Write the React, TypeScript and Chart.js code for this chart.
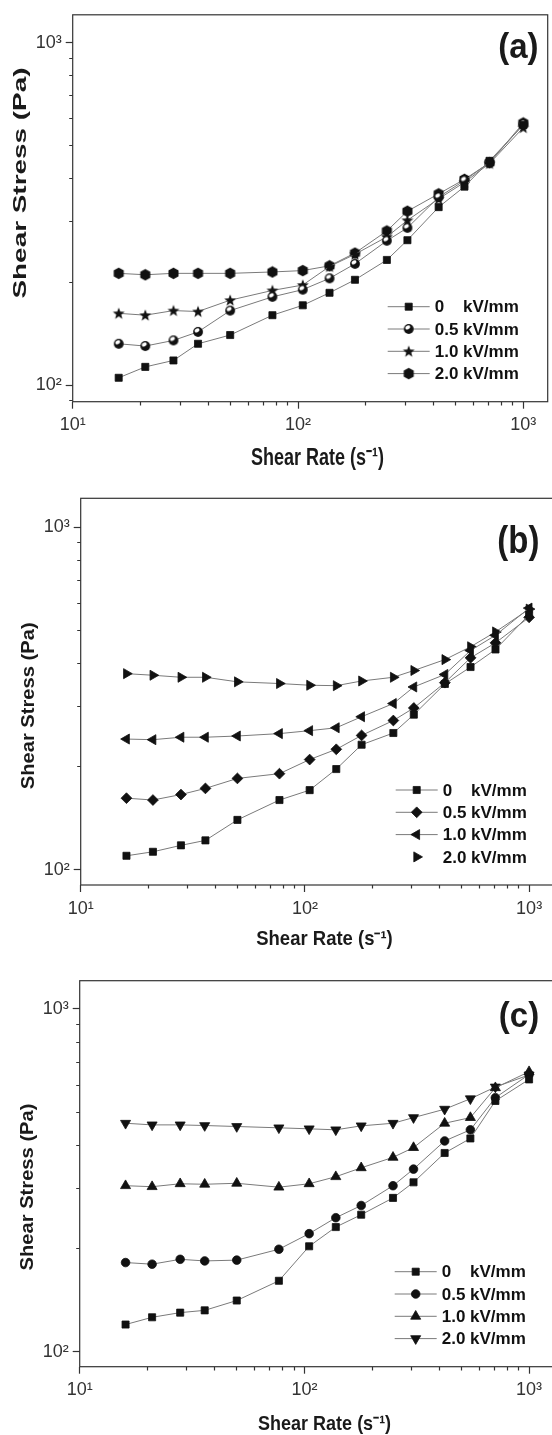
import React, { useEffect, useRef } from 'react';
import { Chart, registerables } from 'chart.js';
import { drawPoint } from 'chart.js/helpers';

Chart.register(...registerables);

// ---------- data ----------
const shearRate = [16, 21, 28, 36, 50, 77, 105, 138, 179, 248, 306, 421, 548, 708, 1000];
const fieldLabels = ['0    kV/mm', '0.5 kV/mm', '1.0 kV/mm', '2.0 kV/mm'];
const decadeValues = [10, 100, 1000];
const decadeLabels = ['10¹', '10²', '10³'];
const panelLetters = ['(a)', '(b)', '(c)'];
const xAxisTitle = 'Shear Rate (s⁻¹)';
const yAxisTitle = 'Shear Stress (Pa)';

// panel (a)
const stressA0 = [105, 113, 118, 132, 140, 160, 171, 186, 203, 232, 265, 331, 380, 452, 575];
const stressA05 = [132, 130, 135, 143, 165, 181, 190, 205, 226, 264, 288, 354, 396, 447, 578];
const stressA10 = [162, 160, 165, 164, 177, 189, 196, 222, 241, 271, 303, 350, 391, 444, 565];
const stressA20 = [212, 210, 212, 212, 212, 214, 216, 223, 243, 282, 322, 362, 399, 446, 583];
// panel (b)
const stressB0 = [110, 113, 118, 122, 140, 160, 171, 197, 232, 251, 284, 349, 391, 440, 556];
const stressB05 = [162, 160, 166, 173, 185, 191, 210, 225, 247, 273, 297, 352, 416, 460, 546];
const stressB10 = [241, 240, 244, 244, 246, 250, 255, 260, 280, 306, 342, 372, 437, 484, 581];
const stressB20 = [374, 370, 365, 365, 354, 350, 346, 345, 356, 365, 382, 411, 448, 495, 577];
// panel (c)
const stressC0 = [120, 126, 130, 132, 141, 161, 203, 231, 251, 281, 312, 380, 419, 539, 623];
const stressC05 = [182, 180, 186, 184, 185, 199, 221, 246, 267, 305, 341, 412, 444, 551, 644];
const stressC10 = [305, 303, 309, 308, 310, 302, 309, 324, 344, 369, 394, 464, 482, 589, 656];
const stressC20 = [464, 459, 459, 457, 454, 450, 447, 444, 456, 464, 482, 510, 547, 592, 642];

// ---------- styling ----------
const FONT = "'Liberation Sans', Arial, Helvetica, sans-serif";
const CW = 560;
const INK = '#111';
const LINE = '#7a7a7a';
const X_DECADE = 225.3;
const Y_DECADE = 342.7;

function makeStar(): HTMLCanvasElement {
  const c = document.createElement('canvas');
  c.width = 14; c.height = 14;
  const g = c.getContext('2d')!;
  g.fillStyle = INK;
  g.beginPath();
  const cx = 7, cy = 7.4, R = 6.2, r = 2.6;
  for (let i = 0; i < 10; i++) {
    const a = -Math.PI / 2 + (i * Math.PI) / 5;
    const rr = i % 2 === 0 ? R : r;
    const px = cx + rr * Math.cos(a), py = cy + rr * Math.sin(a);
    if (i === 0) g.moveTo(px, py); else g.lineTo(px, py);
  }
  g.closePath();
  g.fill();
  return c;
}

function makeHalfCircle(): HTMLCanvasElement {
  const c = document.createElement('canvas');
  c.width = 12; c.height = 12;
  const g = c.getContext('2d')!;
  g.fillStyle = INK;
  g.beginPath(); g.arc(6, 6, 4.9, 0, Math.PI * 2); g.fill();
  g.fillStyle = '#fff';
  g.beginPath(); g.ellipse(5.0, 4.4, 2.6, 1.8, -0.5, 0, Math.PI * 2); g.fill();
  return c;
}

function makeHexagon(): HTMLCanvasElement {
  const c = document.createElement('canvas');
  c.width = 13; c.height = 13;
  const g = c.getContext('2d')!;
  g.fillStyle = INK;
  g.beginPath();
  for (let i = 0; i < 6; i++) {
    const a = -Math.PI / 2 + (i * Math.PI) / 3;
    const px = 6.5 + 5.8 * Math.cos(a), py = 6.5 + 5.8 * Math.sin(a);
    if (i === 0) g.moveTo(px, py); else g.lineTo(px, py);
  }
  g.closePath();
  g.fill();
  return c;
}

type MarkerDef = { style: string; radius: number; rotation?: number; legendLine?: boolean };

type PanelCfg = {
  top: number;
  height: number;
  plot: { left: number; top: number; right: number; bottom: number };
  yMin: number;
  series: number[][];
  markers: MarkerDef[];
  letter: string;
  yTitle: { x: number; y: number; size: number; stretch: number };
  xTitle: { x: number; y: number; size: number; stretch: number };
  letterPos: { x: number; y: number; size: number; stretch: number };
};

const panels: PanelCfg[] = [
  {
    top: 0, height: 480,
    plot: { left: 72.7, top: 14.3, right: 547.7, bottom: 401.7 },
    yMin: 89.4,
    series: [stressA0, stressA05, stressA10, stressA20],
    markers: [
      { style: 'rect', radius: 5 },
      { style: 'half', radius: 5 },
      { style: 'star', radius: 6 },
      { style: 'hex', radius: 6 },
    ],
    letter: panelLetters[0],
    yTitle: { x: 21.5, y: 183, size: 18, stretch: 1.55 },
    xTitle: { x: 317.5, y: 465, size: 18, stretch: 1.3 },
    letterPos: { x: 518.4, y: 48, size: 33, stretch: 1.05 },
  },
  {
    top: 480, height: 480,
    plot: { left: 80.7, top: 18.3, right: 555.7, bottom: 405 },
    yMin: 90.4,
    series: [stressB0, stressB05, stressB10, stressB20],
    markers: [
      { style: 'rect', radius: 5 },
      { style: 'rectRot', radius: 5.4 },
      { style: 'triangle', radius: 5.8, rotation: -90 },
      { style: 'triangle', radius: 5.8, rotation: 90, legendLine: false },
    ],
    letter: panelLetters[1],
    yTitle: { x: 28.7, y: 225.8, size: 18.5, stretch: 1.09 },
    xTitle: { x: 324.5, y: 464.8, size: 18.5, stretch: 1.05 },
    letterPos: { x: 518.3, y: 62.5, size: 33, stretch: 1.15 },
  },
  {
    top: 960, height: 475,
    plot: { left: 79.7, top: 20.7, right: 554.7, bottom: 406.7 },
    yMin: 90.4,
    series: [stressC0, stressC05, stressC10, stressC20],
    markers: [
      { style: 'rect', radius: 5 },
      { style: 'circle', radius: 4.3 },
      { style: 'triangle', radius: 5.8 },
      { style: 'triangle', radius: 5.8, rotation: 180 },
    ],
    letter: panelLetters[2],
    yTitle: { x: 28.1, y: 227, size: 18.5, stretch: 1.09 },
    xTitle: { x: 324.6, y: 469.8, size: 18, stretch: 1.15 },
    letterPos: { x: 519, y: 57.7, size: 33, stretch: 1.05 },
  },
];

function decadeLabel(v: number): string {
  for (let i = 0; i < decadeValues.length; i++) {
    if (Math.abs(v - decadeValues[i]) < 1e-6 * decadeValues[i]) return decadeLabels[i];
  }
  return '';
}

function isNice(v: number): boolean {
  const e = Math.floor(Math.log10(v) + 1e-9);
  const m = v / Math.pow(10, e);
  return Math.abs(m - Math.round(m)) < 1e-6;
}

function isDecade(v: number): boolean {
  return decadeLabel(v) !== '';
}

function resolveStyle(s: string, imgs: Record<string, HTMLCanvasElement>): any {
  if (s === 'star' || s === 'half' || s === 'hex') return imgs[s];
  return s;
}

function Panel({ cfg }: { cfg: PanelCfg }) {
  const ref = useRef<HTMLCanvasElement>(null);
  useEffect(() => {
    const imgs: Record<string, HTMLCanvasElement> = {
      star: makeStar(),
      half: makeHalfCircle(),
      hex: makeHexagon(),
    };
    const { plot } = cfg;
    const xMax = 10 * Math.pow(10, (plot.right - plot.left) / X_DECADE);
    const yMax = cfg.yMin * Math.pow(10, (plot.bottom - plot.top) / Y_DECADE);

    const datasets = cfg.series.map((vals, i) => {
      const m = cfg.markers[i];
      return {
        label: fieldLabels[i],
        data: shearRate.map((x, k) => ({ x, y: vals[k] })),
        showLine: true,
        borderColor: LINE,
        borderWidth: 1,
        tension: 0,
        pointStyle: resolveStyle(m.style, imgs),
        pointRadius: m.radius,
        pointRotation: m.rotation || 0,
        pointBackgroundColor: INK,
        pointBorderColor: INK,
        pointBorderWidth: 0.8,
      };
    });

    const decorPlugin = {
      id: 'decor',
      afterDraw(chart: any) {
        const ctx = chart.ctx as CanvasRenderingContext2D;
        const ca = chart.chartArea;
        ctx.save();
        // frame
        ctx.strokeStyle = '#333';
        ctx.lineWidth = 1.2;
        ctx.strokeRect(ca.left, ca.top, ca.right - ca.left, ca.bottom - ca.top);

        // y title
        ctx.fillStyle = '#1a1a1a';
        ctx.save();
        ctx.translate(cfg.yTitle.x, cfg.yTitle.y);
        ctx.rotate(-Math.PI / 2);
        ctx.scale(cfg.yTitle.stretch, 1);
        ctx.font = `bold ${cfg.yTitle.size}px ${FONT}`;
        ctx.textAlign = 'center';
        ctx.textBaseline = 'middle';
        ctx.fillText(yAxisTitle, 0, 0);
        ctx.restore();

        // x title
        ctx.save();
        ctx.translate(cfg.xTitle.x, cfg.xTitle.y);
        ctx.scale(1, cfg.xTitle.stretch);
        ctx.font = `bold ${cfg.xTitle.size}px ${FONT}`;
        ctx.textAlign = 'center';
        ctx.textBaseline = 'alphabetic';
        ctx.fillText(xAxisTitle, 0, 0);
        ctx.restore();

        // panel letter
        ctx.save();
        ctx.translate(cfg.letterPos.x, cfg.letterPos.y);
        ctx.scale(1, cfg.letterPos.stretch);
        ctx.font = `bold ${cfg.letterPos.size}px ${FONT}`;
        ctx.textAlign = 'center';
        ctx.textBaseline = 'middle';
        ctx.fillText(cfg.letter, 0, 0);
        ctx.restore();

        // legend
        const lx0 = ca.left + 315;
        const lx1 = ca.left + 357;
        const mx = ca.left + 336;
        const tx = ca.left + 362;
        for (let i = 0; i < fieldLabels.length; i++) {
          const y = ca.bottom - 95 + i * 22.3;
          const m = cfg.markers[i];
          if (m.legendLine !== false) {
            ctx.strokeStyle = LINE;
            ctx.lineWidth = 1;
            ctx.beginPath();
            ctx.moveTo(lx0, y);
            ctx.lineTo(lx1, y);
            ctx.stroke();
          }
          ctx.fillStyle = INK;
          ctx.strokeStyle = INK;
          ctx.lineWidth = 0.8;
          drawPoint(ctx, {
            pointStyle: resolveStyle(m.style, imgs),
            radius: m.radius,
            rotation: m.rotation || 0,
            borderWidth: 0.8,
          } as any, mx, y);
          ctx.fillStyle = '#111';
          ctx.font = `bold 17px ${FONT}`;
          ctx.textAlign = 'left';
          ctx.textBaseline = 'middle';
          ctx.fillText(fieldLabels[i], tx, y + 1);
        }
        ctx.restore();
      },
    };

    const tickFont = { family: FONT, size: 18 };
    const chart = new Chart(ref.current!, {
      type: 'scatter',
      data: { datasets: datasets as any },
      options: {
        animation: false,
        responsive: false,
        devicePixelRatio: 1,
        layout: { padding: { left: 0, top: plot.top, right: CW - plot.right, bottom: 0 } },
        plugins: { legend: { display: false }, tooltip: { enabled: false }, title: { display: false } },
        elements: { line: { tension: 0 } },
        scales: {
          x: {
            type: 'logarithmic',
            min: 10,
            max: xMax,
            afterFit: (s: any) => { s.height = cfg.height - plot.bottom; },
            border: { display: false },
            grid: {
              drawOnChartArea: false,
              drawTicks: true,
              tickLength: 7,
              tickWidth: 1.2,
              tickColor: (c: any) => (c.tick && isNice(c.tick.value) ? '#333' : 'rgba(0,0,0,0)'),
              tickBorderDash: (c: any) => (c.tick && isDecade(c.tick.value) ? [] : [3.5, 20]),
            } as any,
            ticks: {
              autoSkip: false,
              maxRotation: 0,
              minRotation: 0,
              padding: 6,
              color: '#333',
              font: tickFont,
              callback: (v: any) => decadeLabel(Number(v)),
            },
          },
          y: {
            type: 'logarithmic',
            min: cfg.yMin,
            max: yMax,
            afterFit: (s: any) => { s.width = plot.left; },
            border: { display: false },
            grid: {
              drawOnChartArea: false,
              drawTicks: true,
              tickLength: 7,
              tickWidth: 1.2,
              tickColor: (c: any) => (c.tick && isNice(c.tick.value) ? '#333' : 'rgba(0,0,0,0)'),
              tickBorderDash: (c: any) => (c.tick && isDecade(c.tick.value) ? [] : [0, 3.5, 3.5, 20]),
            } as any,
            ticks: {
              autoSkip: false,
              padding: 4,
              color: '#333',
              font: tickFont,
              callback: (v: any) => decadeLabel(Number(v)),
            },
          },
        },
      } as any,
      plugins: [decorPlugin],
    });
    return () => chart.destroy();
  }, [cfg]);

  return (
    <canvas
      ref={ref}
      width={CW}
      height={cfg.height}
      style={{ position: 'absolute', left: 0, top: cfg.top, display: 'block', width: CW, height: cfg.height }}
    />
  );
}

export default function App() {
  return (
    <div
      style={{
        position: 'absolute',
        left: 0,
        top: 0,
        width: 552,
        height: 1435,
        overflow: 'hidden',
        background: '#fff',
      }}
    >
      {panels.map((p, i) => (
        <Panel key={i} cfg={p} />
      ))}
    </div>
  );
}
